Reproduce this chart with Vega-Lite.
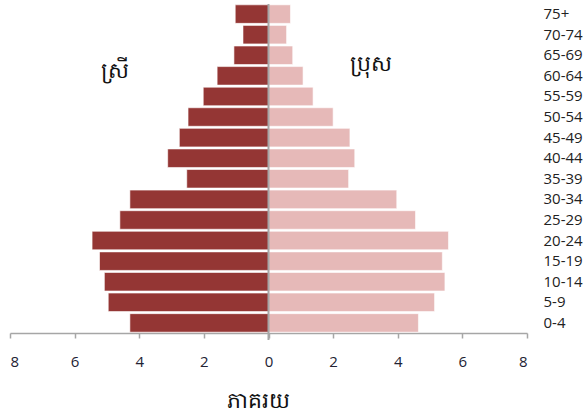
{
  "$schema": "https://vega.github.io/schema/vega-lite/v6.json",
  "autosize": "none",
  "width": 517,
  "height": 329,
  "padding": {"left": 10, "top": 4, "right": 59, "bottom": 79},
  "background": "white",
  "config": {"view": {"stroke": null}, "font": "Open Sans"},
  "datasets": {
    "pop": [
      {"age": "75+", "sex": "F", "pct": -1.03},
      {"age": "70-74", "sex": "F", "pct": -0.79},
      {"age": "65-69", "sex": "F", "pct": -1.07},
      {"age": "60-64", "sex": "F", "pct": -1.59},
      {"age": "55-59", "sex": "F", "pct": -2.02},
      {"age": "50-54", "sex": "F", "pct": -2.49},
      {"age": "45-49", "sex": "F", "pct": -2.76},
      {"age": "40-44", "sex": "F", "pct": -3.12},
      {"age": "35-39", "sex": "F", "pct": -2.53},
      {"age": "30-34", "sex": "F", "pct": -4.29},
      {"age": "25-29", "sex": "F", "pct": -4.6},
      {"age": "20-24", "sex": "F", "pct": -5.46},
      {"age": "15-19", "sex": "F", "pct": -5.23},
      {"age": "10-14", "sex": "F", "pct": -5.08},
      {"age": "5-9", "sex": "F", "pct": -4.96},
      {"age": "0-4", "sex": "F", "pct": -4.29},
      {"age": "75+", "sex": "M", "pct": 0.68},
      {"age": "70-74", "sex": "M", "pct": 0.56},
      {"age": "65-69", "sex": "M", "pct": 0.75},
      {"age": "60-64", "sex": "M", "pct": 1.07},
      {"age": "55-59", "sex": "M", "pct": 1.38},
      {"age": "50-54", "sex": "M", "pct": 2.0},
      {"age": "45-49", "sex": "M", "pct": 2.52},
      {"age": "40-44", "sex": "M", "pct": 2.67},
      {"age": "35-39", "sex": "M", "pct": 2.48},
      {"age": "30-34", "sex": "M", "pct": 3.97},
      {"age": "25-29", "sex": "M", "pct": 4.55},
      {"age": "20-24", "sex": "M", "pct": 5.57},
      {"age": "15-19", "sex": "M", "pct": 5.38},
      {"age": "10-14", "sex": "M", "pct": 5.46},
      {"age": "5-9", "sex": "M", "pct": 5.14},
      {"age": "0-4", "sex": "M", "pct": 4.64}
    ],
    "labels": [
      {"label": "ស្រី", "x": -4.74, "age": "60-64", "off": 4},
      {"label": "ប្រុស", "x": 3.16, "age": "65-69", "off": 18}
    ]
  },
  "encoding": {
    "y": {
      "field": "age",
      "type": "nominal",
      "sort": ["75+", "70-74", "65-69", "60-64", "55-59", "50-54", "45-49", "40-44", "35-39", "30-34", "25-29", "20-24", "15-19", "10-14", "5-9", "0-4"],
      "scale": {"paddingInner": 0.1, "paddingOuter": 0.04},
      "axis": {
        "orient": "right",
        "title": null,
        "domain": false,
        "ticks": false,
        "tickSize": 0,
        "labelPadding": 16,
        "labelFontSize": 15,
        "labelColor": "#222222",
        "labelFont": "Open Sans"
      }
    }
  },
  "layer": [
    {
      "data": {"name": "pop"},
      "mark": {"type": "bar", "stroke": "white", "strokeWidth": 1, "strokeOpacity": 0.6},
      "encoding": {
        "x": {
          "field": "pct",
          "type": "quantitative",
          "scale": {"domain": [-8, 8], "nice": false},
          "axis": {
            "values": [-8, -6, -4, -2, 0, 2, 4, 6, 8],
            "labelExpr": "abs(datum.value)",
            "grid": false,
            "domainColor": "#A6A6A6",
            "domainWidth": 1.5,
            "tickColor": "#A6A6A6",
            "tickWidth": 1.5,
            "tickSize": 5,
            "labelPadding": 16,
            "labelFontSize": 15,
            "labelColor": "#222233",
            "labelFont": "Open Sans",
            "title": "ភាគរយ",
            "titleFontSize": 22,
            "titleFontWeight": "normal",
            "titleColor": "#111111",
            "titlePadding": 21,
            "titleX": 248
          }
        },
        "color": {
          "field": "sex",
          "type": "nominal",
          "scale": {"domain": ["F", "M"], "range": ["#943634", "#E6B9B8"]},
          "legend": null
        }
      }
    },
    {
      "data": {"values": [{"z": 0}]},
      "mark": {"type": "rule", "color": "#A6A6A6", "strokeWidth": 2},
      "encoding": {"x": {"datum": 0, "type": "quantitative"}, "y": {"value": 0}, "y2": {"value": 336}}
    },
    {
      "data": {"name": "labels"},
      "mark": {"type": "text", "fontSize": 22, "color": "#111111", "baseline": "middle", "align": "center"},
      "encoding": {
        "x": {"field": "x", "type": "quantitative"},
        "text": {"field": "label"},
        "yOffset": {"field": "off", "type": "quantitative", "scale": null}
      }
    }
  ]
}
